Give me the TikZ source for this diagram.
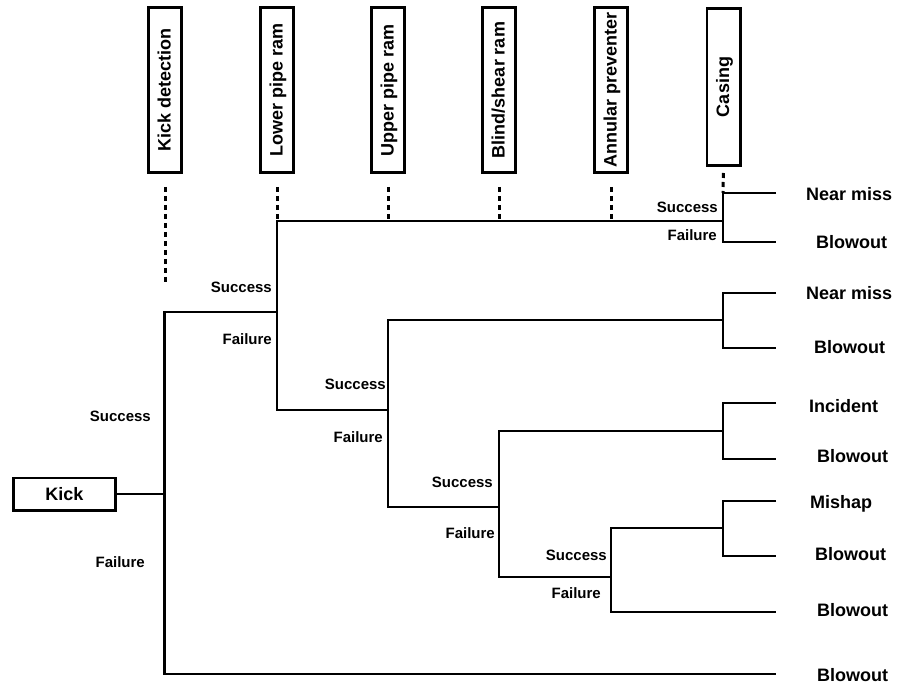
\documentclass[tikz,border=0pt]{standalone}
\usepackage{fontspec}
\setmainfont{Liberation Sans}
\usepackage{tikz}
\usetikzlibrary{positioning}

\begin{document}
\begin{tikzpicture}
    [ x = 1pt, y = -1pt
    , stage/.style =
      { draw, line width=2.8pt, rotate=90, inner sep=0pt
      , minimum width=165.2pt, minimum height=33.2pt
      , text height=13pt, text depth=2pt
      , font=\fontsize{18}{20}\selectfont\bfseries }
    , start/.style =
      { draw, line width=2.8pt, inner sep=0pt
      , minimum width=102.2pt, minimum height=32.2pt
      , font=\fontsize{18}{20}\selectfont\bfseries }
    , edge/.style =
      { line width=2.8pt }
    , guide/.style =
      { line width=3pt, dash pattern=on 5pt off 4pt }
    , branch/.style =
      { anchor=east, inner sep=0pt, text height=11pt, text depth=0pt
      , font=\fontsize{15}{17}\selectfont\bfseries }
    , outcome/.style =
      { anchor=west, inner sep=0pt, text height=13pt, text depth=0pt
      , font=\fontsize{18}{20}\selectfont\bfseries }
    ]
    \useasboundingbox (0,0) rectangle (897,684);

    % column headers
    \node [stage] (kd) at (165,90) {Kick detection};
    \node [stage] (lp) at (277,90) {Lower pipe ram};
    \node [stage] (up) at (388,90) {Upper pipe ram};
    \node [stage] (bs) at (499,90) {Blind/shear ram};
    \node [stage] (ap) at (611,90) {Annular preventer};
    \node [stage, minimum width=157.2pt] (cs) at (723.5,87) {Casing};

    \node [start] (kick) at (64.5,494) {Kick};

    % junctions
    \coordinate (j0) at (164.5,494);
    \coordinate (j0s) at (164.5,312);
    \coordinate (j0f) at (164.5,674);
    \coordinate (j1) at (277,312);
    \coordinate (j1s) at (277,221);
    \coordinate (j1f) at (277,410);
    \coordinate (j2) at (388,410);
    \coordinate (j2s) at (388,320);
    \coordinate (j2f) at (388,507);
    \coordinate (j3) at (499,507);
    \coordinate (j3s) at (499,431);
    \coordinate (j3f) at (499,577);
    \coordinate (j4) at (611,577);
    \coordinate (j4s) at (611,528);
    \coordinate (j4f) at (611,612);
    \coordinate (kd-end) at (165,285);

    % forks at the casing column
    \coordinate (f1) at (723,221);
    \coordinate (f1s) at (723,193);
    \coordinate (f1f) at (723,242);
    \coordinate (f2) at (723,320);
    \coordinate (f2s) at (723,293);
    \coordinate (f2f) at (723,348);
    \coordinate (f3) at (723,431);
    \coordinate (f3s) at (723,403);
    \coordinate (f3f) at (723,459);
    \coordinate (f4) at (723,528);
    \coordinate (f4s) at (723,501);
    \coordinate (f4f) at (723,556);

    % branch ends
    \coordinate (e1) at (776,193);
    \coordinate (e2) at (776,242);
    \coordinate (e3) at (776,293);
    \coordinate (e4) at (776,348);
    \coordinate (e5) at (776,403);
    \coordinate (e6) at (776,459);
    \coordinate (e7) at (776,501);
    \coordinate (e8) at (776,556);
    \coordinate (e9) at (776,612);
    \coordinate (e10) at (776,674);

    % success / failure labels
    \node [branch] (kd-s) at (151,416) {Success};
    \node [branch] (kd-f) at (145,562) {Failure};
    \node [branch] (lp-s) at (272,287) {Success};
    \node [branch] (lp-f) at (272,339) {Failure};
    \node [branch] (up-s) at (386,384) {Success};
    \node [branch] (up-f) at (383,437) {Failure};
    \node [branch] (bs-s) at (493,482) {Success};
    \node [branch] (bs-f) at (495,533) {Failure};
    \node [branch] (ap-s) at (607,555) {Success};
    \node [branch] (ap-f) at (601,593) {Failure};
    \node [branch] (cs-s) at (718,207) {Success};
    \node [branch] (cs-f) at (717,235) {Failure};

    % outcomes
    \node [outcome] (o1) at (806,194) {Near miss};
    \node [outcome] (o2) at (816,242) {Blowout};
    \node [outcome] (o3) at (806,293) {Near miss};
    \node [outcome] (o4) at (814,347) {Blowout};
    \node [outcome] (o5) at (809,406) {Incident};
    \node [outcome] (o6) at (817,456) {Blowout};
    \node [outcome] (o7) at (810,502) {Mishap};
    \node [outcome] (o8) at (815,554) {Blowout};
    \node [outcome] (o9) at (817,610) {Blowout};
    \node [outcome] (o10) at (817,675) {Blowout};

    % dotted guides
    \draw [guide, shorten <=13pt] (kd.west) -- (kd-end);
    \draw [guide, shorten <=13pt] (lp.west) -- (j1s);
    \draw [guide, shorten <=13pt] (up.west) -- (up.west |- j1s);
    \draw [guide, shorten <=13pt] (bs.west) -- (bs.west |- j1s);
    \draw [guide, shorten <=13pt] (ap.west) -- (ap.west |- j1s);
    \draw [guide, shorten <=6pt] (cs.west) -- (f1s);

    % tree
    \draw [edge] (kick) -- (j0);
    \draw [edge] (j1) -- (j0s) -- (j0f) -- (e10);
    \draw [edge] (f1) -- (j1s) -- (j1f) -- (j2);
    \draw [edge] (f2) -- (j2s) -- (j2f) -- (j3);
    \draw [edge] (f3) -- (j3s) -- (j3f) -- (j4);
    \draw [edge] (f4) -- (j4s) -- (j4f) -- (e9);
    \draw [edge] (e1) -- (f1s) -- (f1f) -- (e2);
    \draw [edge] (e3) -- (f2s) -- (f2f) -- (e4);
    \draw [edge] (e5) -- (f3s) -- (f3f) -- (e6);
    \draw [edge] (e7) -- (f4s) -- (f4f) -- (e8);
\end{tikzpicture}
\end{document}
